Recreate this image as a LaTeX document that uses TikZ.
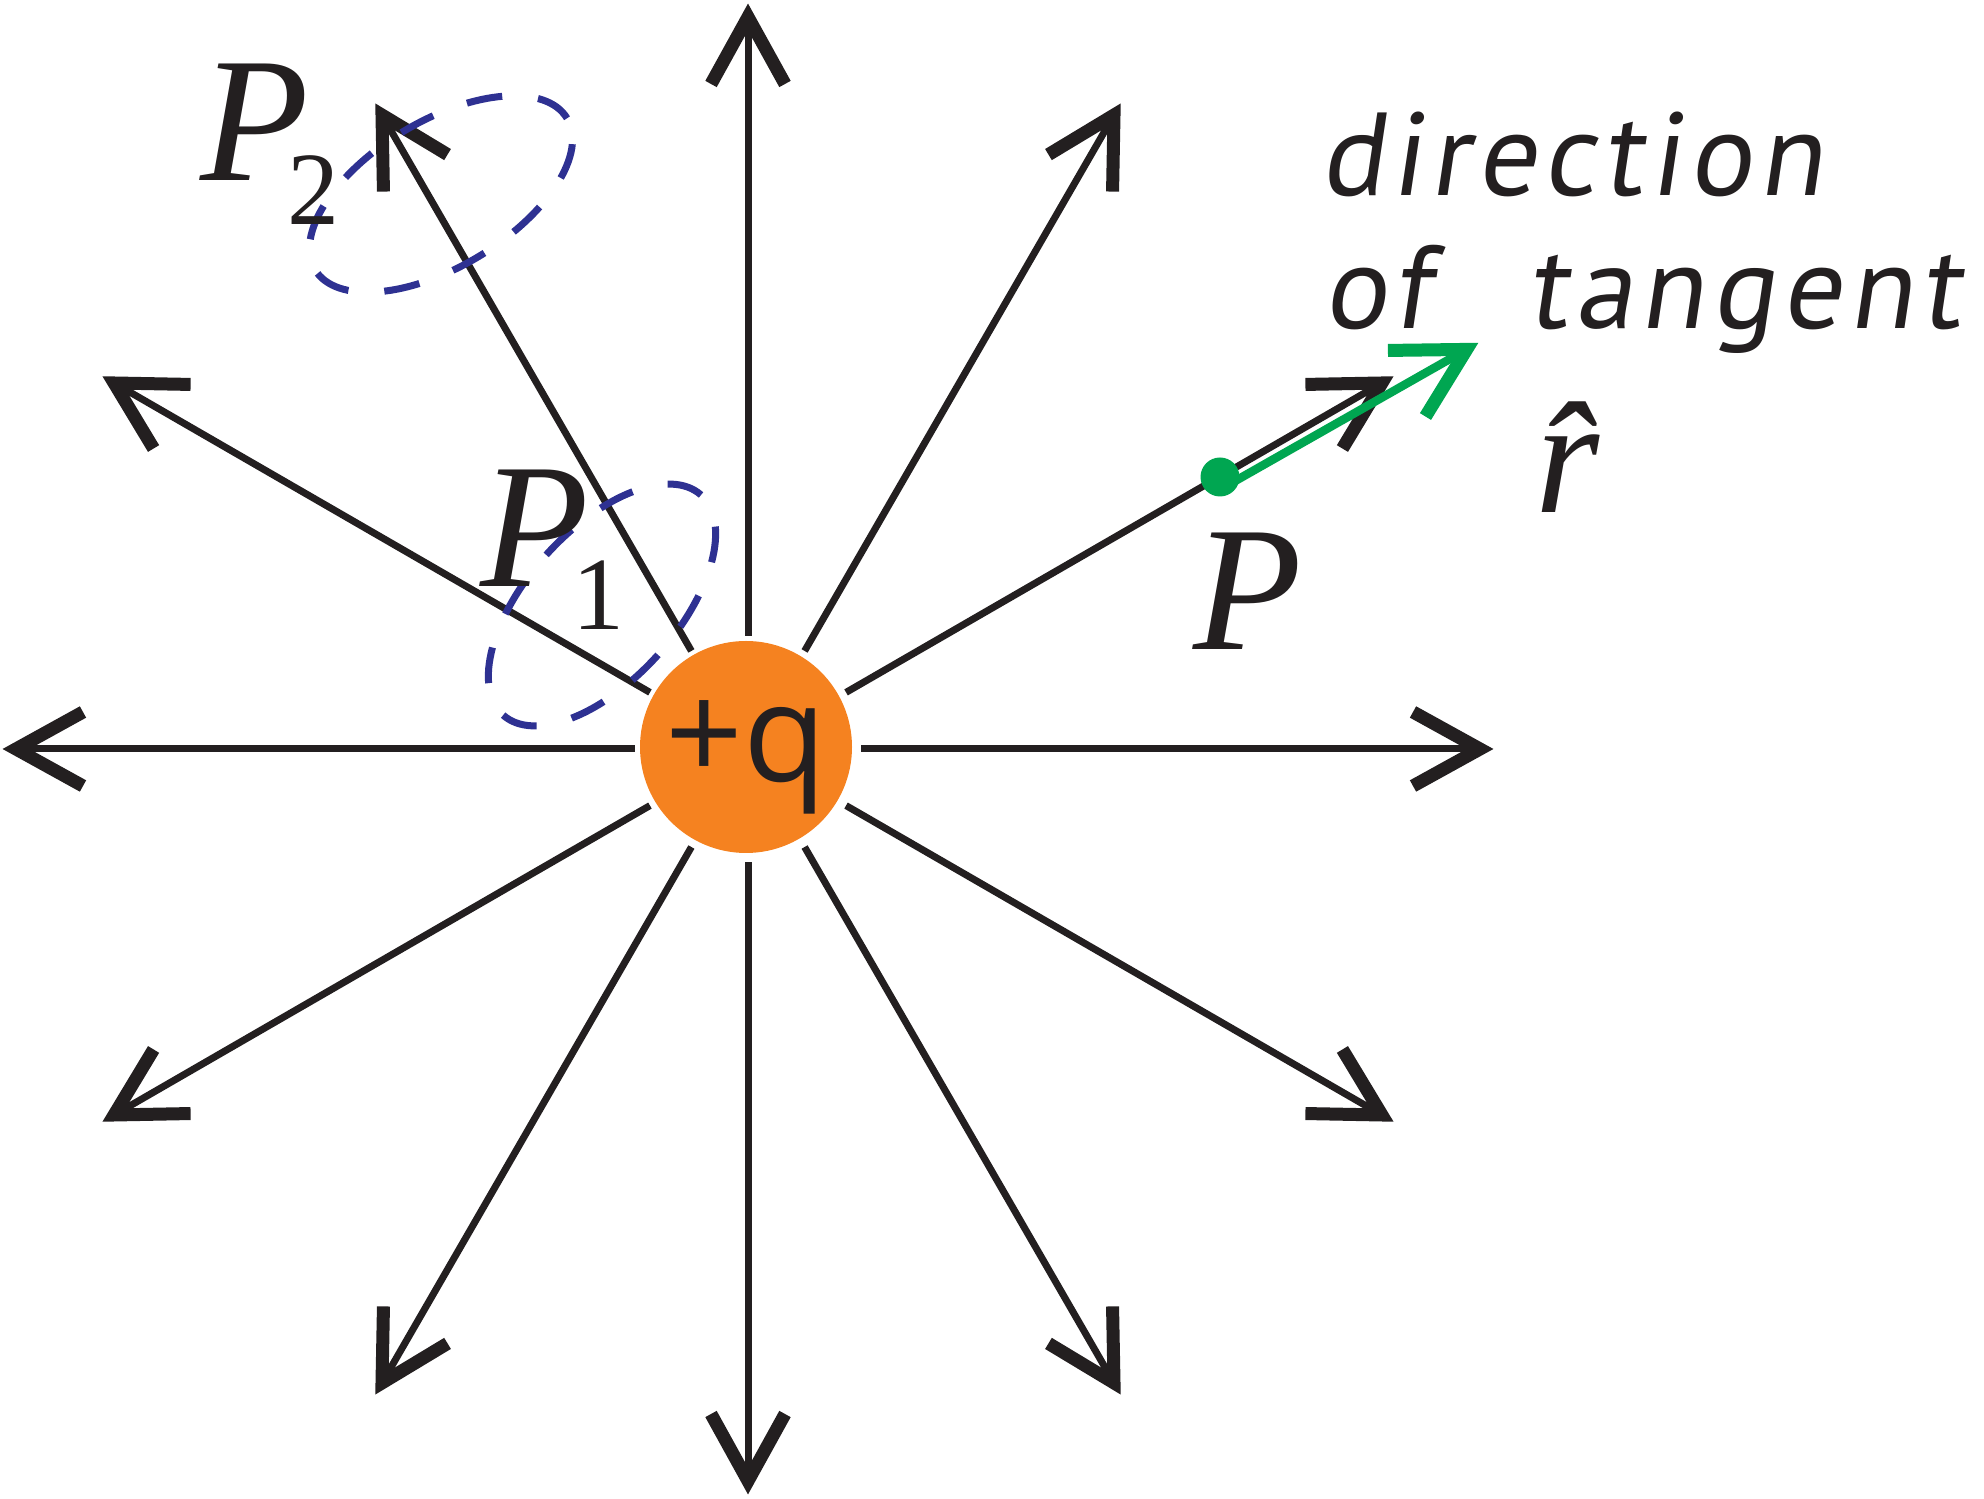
\documentclass[tikz,border=0pt]{standalone}
\usepackage{fontspec}
\setmainfont{Liberation Serif}
\newfontfamily\labelsans[LetterSpace=6,FakeSlant=0.15]{PT Sans}
\newfontfamily\chargesans{Open Sans}
\usetikzlibrary{calc}
\definecolor{linek}{HTML}{231F20}
\definecolor{chargeorange}{HTML}{F58220}
\definecolor{tangreen}{HTML}{00A651}
\definecolor{loopblue}{HTML}{2E3192}
\begin{document}
\begin{tikzpicture}[x=1pt,y=1pt,
  fieldline/.style={draw=linek, line width=7pt, line cap=butt},
  headline/.style={draw=linek, line width=13pt, line cap=butt, line join=miter},
  greenline/.style={draw=tangreen, line width=8.5pt, line cap=butt},
  greenheadline/.style={draw=tangreen, line width=13pt, line cap=butt, line join=miter},
  fieldloop/.style={draw=loopblue, line width=7pt, dash pattern=on 36pt off 36pt},
  fieldhead/.pic={\draw[headline] (-80,37) -- (-13,0) -- (-80,-37);},
  greenhead/.pic={\draw[greenheadline] (-82,38) -- (-13,0) -- (-82,-38);},
  serifP/.style={anchor=base west, inner sep=0pt, text=linek, font=\itshape\fontsize{178}{178}\selectfont},
  serifsub/.style={anchor=base west, inner sep=0pt, text=linek, font=\fontsize{104}{104}\selectfont},
  sanslabel/.style={anchor=base west, inner sep=0pt, text=linek, font=\labelsans\fontsize{118}{118}\selectfont}]
\useasboundingbox (0,0) rectangle (1984,1499);
% charge
\node[circle, fill=chargeorange, minimum size=212pt, inner sep=0pt] (q) at (746,752) {};
\node[circle, minimum size=226pt, inner sep=0pt] (qgap) at (748,750) {};
\coordinate (c) at (748,750);
% field lines
\foreach \a [count=\i] in {0,30,...,330} {
  \coordinate (t\i) at ($(c)+(\a:745)$);
  \coordinate (v\i) at ($(c)+(\a:732)$);
  \draw[fieldline] (qgap.\a) -- (v\i);
  \pic[rotate=\a] at (t\i) {fieldhead};
}
\node[anchor=base, inner sep=0pt, text=linek, font=\chargesans\fontsize{136}{136}\selectfont] (qlabel) at (746,717) {+q};
% dashed loops
\draw[fieldloop, rotate around={48:(602,894)}] (602,894) ellipse [x radius=148, y radius=75];
\draw[fieldloop, rotate around={31:(441,1305)}] (441,1305) ellipse [x radius=147, y radius=73];
% tangent direction
\coordinate (gs) at (1225.5,1012.5);
\coordinate (gtip) at (1478,1156);
\coordinate (gv) at ($(gtip)+(209.6:12)$);
\draw[greenline] (gs) -- (gv);
\pic[rotate=29.6] at (gtip) {greenhead};
\node[circle, fill=tangreen, minimum size=39pt, inner sep=0pt] (pdot) at (1220,1022) {};
% labels
\node[serifP] (P2) at (200,1318) {P};
\node[serifsub] (P2sub) at (287,1274) {2};
\node[serifP] (P1) at (480,912) {P};
\node[serifsub] (P1sub) at (572,869) {1};
\node[serifP] (Plab) at (1193,849) {P};
\node[serifP, font=\itshape\fontsize{165}{165}\selectfont] (rhat) at (1535,986) {\^{r}};
\node[sanslabel] (dir) at (1320,1303) {direction};
\node[sanslabel] (of) at (1323,1170) {of};
\node[sanslabel] (tang) at (1527,1170) {tangent};
\end{tikzpicture}
\end{document}
